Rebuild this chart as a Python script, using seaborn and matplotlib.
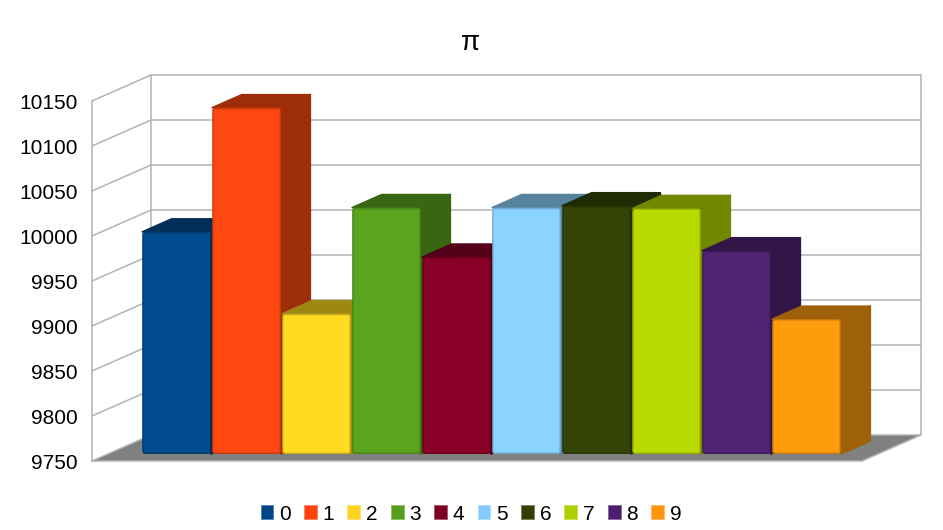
"""Bar chart of digit counts in the first 100000 digits of pi, in a fake 3D style."""

import matplotlib
matplotlib.use("Agg")
import matplotlib.pyplot as plt
import seaborn as sns
from matplotlib.colors import to_rgb
from matplotlib.patches import FancyBboxPatch, Patch, Polygon
from matplotlib.transforms import Affine2D, IdentityTransform

DIGITS = ["0", "1", "2", "3", "4", "5", "6", "7", "8", "9"]
COUNTS = [9999, 10137, 9908, 10026, 9971, 10026, 10028, 10025, 9978, 9902]
Y_TICKS = [9750, 9800, 9850, 9900, 9950, 10000, 10050, 10100, 10150]

LEGEND_COLORS = ["#004586", "#ff420e", "#ffd320", "#579d1c", "#7e0021",
                 "#83caff", "#314004", "#aecf00", "#4b1f6f", "#ff950e"]
BAR_COLORS = ["#004a8e", "#ff480f", "#ffdc20", "#5ba51e", "#880028",
              "#8ad4ff", "#344405", "#b8da00", "#4f2272", "#ff9c0e"]

GRID = "#b3b3b3"
FLOOR = "#808080"

# depth offsets in data units (70 px per category, 0.9 px per count)
WALL_DX, WALL_DY = 59 / 70, 26 / 0.9
BAR_DX, BAR_DY = 14.5 / 70, 5 / 0.9
DEPTH_DX, DEPTH_DY = 29.5 / 70, 13 / 0.9
BAR_BASE = 9750 + 7 / 0.9


def blend(color, other, amount):
    a, b = to_rgb(color), to_rgb(other)
    return tuple(x * (1 - amount) + y * amount for x, y in zip(a, b))


def draw_walls(ax):
    x0, x1 = ax.get_xlim()
    y0, y1 = Y_TICKS[0], Y_TICKS[-1]
    floor = [(x0, y0), (x0 + WALL_DX, y0 + WALL_DY), (x1 + WALL_DX, y0 + WALL_DY), (x1, y0)]
    ax.add_patch(Polygon(floor, facecolor=FLOOR, edgecolor="none", zorder=1, clip_on=False))
    for tick in Y_TICKS:
        ax.plot([x0, x0 + WALL_DX, x1 + WALL_DX], [tick, tick + WALL_DY, tick + WALL_DY],
                color=GRID, lw=1.1, zorder=1.5, clip_on=False)
    ax.plot([x0 + WALL_DX, x0 + WALL_DX], [y0 + WALL_DY, y1 + WALL_DY], color=GRID, lw=1.1,
            zorder=1.5, clip_on=False)
    ax.plot([x1, x1 + WALL_DX, x1 + WALL_DX], [y0, y0 + WALL_DY, y1 + WALL_DY], color=GRID, lw=1.1,
            zorder=1.5, clip_on=False)


def draw_bar(ax, rect, color, z):
    """Turn a flat seaborn bar into a front face with a top and a side."""
    left = rect.get_x() + BAR_DX
    right = left + rect.get_width()
    top = rect.get_height() + rect.get_y() + BAR_DY
    dark = blend(color, "black", 0.38)

    side = [(right, BAR_BASE), (right + DEPTH_DX, BAR_BASE + DEPTH_DY),
            (right + DEPTH_DX, top + DEPTH_DY), (right, top)]
    roof = [(left, top), (left + DEPTH_DX, top + DEPTH_DY),
            (right + DEPTH_DX, top + DEPTH_DY), (right, top)]
    for pts in (side, roof):
        ax.add_patch(Polygon(pts, facecolor=dark, edgecolor=dark, lw=1.2, joinstyle="round",
                             zorder=z, clip_on=False))

    (px0, py0), (px1, py1) = ax.transData.transform([(left, BAR_BASE), (right, top)])
    for inset, amount, radius in [(0, 0.55, 3), (1, 0.22, 2)]:
        ax.add_patch(FancyBboxPatch((px0 + inset, py0 + inset), px1 - px0 - 2 * inset, py1 - py0 - 2 * inset,
                                    boxstyle=f"round,pad=0,rounding_size={radius}",
                                    facecolor=blend(color, dark, amount), edgecolor="none",
                                    transform=IdentityTransform(), zorder=z + 0.01, clip_on=False))

    # the seaborn bar itself stays as the flat middle of the face
    inv = ax.transData.inverted()
    (dx0, dy0), (dx1, dy1) = inv.transform([(px0 + 2, py0 + 2), (px1 - 2, py1 - 2)])
    rect.set_bounds(dx0, dy0, dx1 - dx0, dy1 - dy0)
    rect.set_edgecolor("none")
    rect.set_linewidth(0)
    rect.set_zorder(z + 0.02)
    rect.set_clip_on(False)


def main():
    sns.set_theme(style="white")
    plt.rcParams["font.family"] = ["Liberation Sans", "DejaVu Sans"]

    fig = plt.figure(figsize=(9.43, 5.30), dpi=100)
    ax = fig.add_axes([92 / 943, 69 / 530, 770 / 943, 360 / 530])
    ax.patch.set_alpha(0)

    sns.barplot(x=DIGITS, y=COUNTS, hue=DIGITS, palette=BAR_COLORS, saturation=1, width=0.98,
                legend=False, ax=ax)
    bars = list(ax.patches)
    ax.set_xlim(-1, 10)
    ax.set_ylim(Y_TICKS[0], Y_TICKS[-1])
    ax.set_autoscale_on(False)

    draw_walls(ax)
    for i, (rect, color) in enumerate(zip(bars, BAR_COLORS)):
        draw_bar(ax, rect, color, 3 + i * 0.1)

    ax.set_xticks([])
    ax.set_yticks(Y_TICKS)
    ax.set_yticklabels([str(t) for t in Y_TICKS], fontsize=15, color="black")
    ax.tick_params(axis="y", length=0, pad=10)
    for label in ax.get_yticklabels():
        label.set_transform(label.get_transform() + Affine2D().translate(0, -1))
    ax.set_xlabel("")
    ax.set_ylabel("")
    for name in ("top", "right"):
        ax.spines[name].set_visible(False)
    for name in ("left", "bottom"):
        ax.spines[name].set_color(GRID)
        ax.spines[name].set_linewidth(1.1)
        ax.spines[name].set_zorder(1.6)

    fig.text(471 / 943, (530 - 43) / 530, "π", fontsize=20, ha="center", va="center", color="black")

    handles = [Patch(facecolor=c, edgecolor=blend(c, "white", 0.35), lw=0.7, label=d)
               for c, d in zip(LEGEND_COLORS, DIGITS)]
    fig.legend(handles=handles, ncol=10, loc="center", bbox_to_anchor=(471 / 943, 16 / 530),
               frameon=False, fontsize=15, labelcolor="black", handlelength=0.62, handleheight=0.62,
               handletextpad=0.28, columnspacing=0.625, borderpad=0, borderaxespad=0)

    fig.savefig("out.png", dpi=100)
    plt.close(fig)


if __name__ == "__main__":
    main()
